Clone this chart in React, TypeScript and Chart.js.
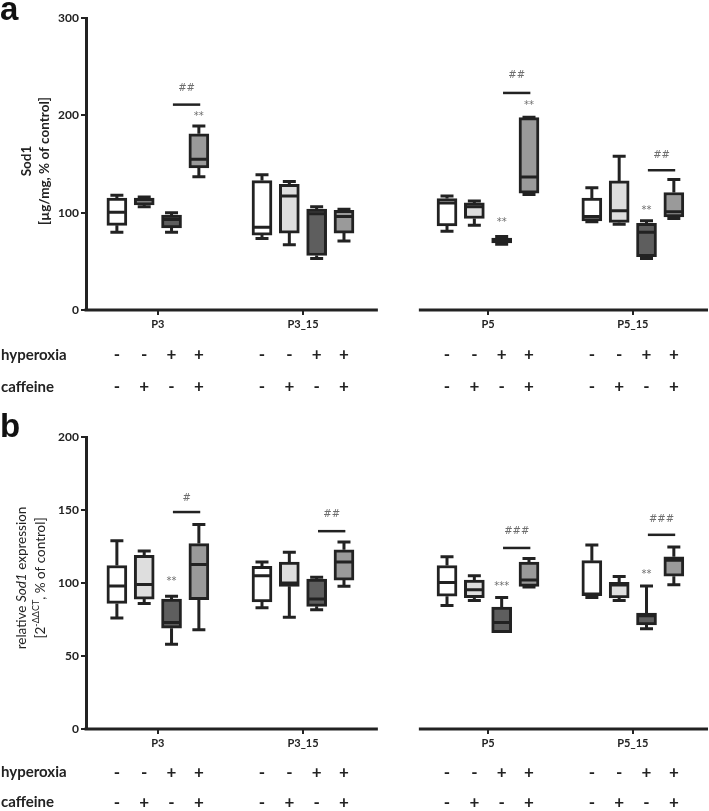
import React, { useEffect, useRef } from "react";
import { Chart, registerables } from "chart.js";

Chart.register(...registerables);

// ---------- shared categories ----------
const groups = ["P3", "P3_15", "P5", "P5_15"];
const hyperoxia = ["-", "-", "+", "+"];
const caffeine = ["-", "+", "-", "+"];
const slotColors = ["#ffffff", "#dedede", "#5e5e5e", "#9a9a9a"];
// group centres on the x scale (1 unit = distance between neighbouring boxes)
const groupCenters = [2.63, 7.94, 14.71, 20.01];
const xMax = 22.76;
const axisSegments = [
  [0, 10.68],
  [12.18, 22.76],
];

// ---------- panel a: Sod1 protein [µg/mg, % of control] ----------
const aMin = [80, 106, 80, 137, 73.5, 67, 53, 71, 81, 87, 67.5, 118.6, 90.6, 88, 53, 94];
const aQ1 = [87, 108, 84.4, 146, 77, 79, 56, 79, 86.5, 94, 69, 120, 91.6, 90, 54.7, 95.7];
const aMedian = [100.5, 113, 93, 155, 85, 117, 99, 96, 110, 106, 71, 136.7, 96, 102, 80, 101];
const aQ3 = [115, 115, 97.4, 181, 133, 129, 103.6, 102.5, 114.5, 110, 74, 197.6, 115, 132.6, 89, 120.7];
const aMax = [118, 116, 100, 189, 139, 132, 106, 103.6, 117, 112, 75.5, 198, 125.5, 158, 91.6, 134];
const aYTicks = [0, 100, 200, 300];
const aBrackets = [
  { group: 0, y: 211, label: "##", labelY: 228 },
  { group: 2, y: 223, label: "##", labelY: 241 },
  { group: 3, y: 143.6, label: "##", labelY: 159 },
];
const aStars = [
  { group: 0, slot: 3, text: "**", y: 199 },
  { group: 2, slot: 3, text: "**", y: 210 },
  { group: 2, slot: 2, text: "**", y: 90 },
  { group: 3, slot: 2, text: "**", y: 102.6 },
];

// ---------- panel b: relative Sod1 expression ----------
const bMin = [76, 86, 58, 68, 83, 76.6, 81.6, 97.7, 84.6, 88, 66, 97.2, 90, 88, 68.6, 98.8];
const bQ1 = [86, 89, 69, 88.5, 87, 97.7, 84, 102, 91, 90, 66, 97.7, 91.3, 89.7, 71.3, 104.6];
const bMedian = [98, 99, 73, 112.6, 105, 100, 89, 114.4, 100.4, 95.4, 73, 102, 92.4, 98.6, 77.5, 115.6];
const bQ3 = [112, 119, 89, 127, 111.4, 114.4, 102.7, 122.7, 112, 102, 83.5, 114.4, 115.3, 100.4, 79.4, 117.9];
const bMax = [129, 122, 91, 140, 114.4, 121, 104, 128, 118, 105, 90, 116.7, 126, 104.5, 98, 124.7];
const bYTicks = [0, 50, 100, 150, 200];
const bBrackets = [
  { group: 0, y: 148.6, label: "#", labelY: 158 },
  { group: 1, y: 135.5, label: "##", labelY: 147 },
  { group: 2, y: 124, label: "###", labelY: 135 },
  { group: 3, y: 133, label: "###", labelY: 143.5 },
];
const bStars = [
  { group: 0, slot: 2, text: "**", y: 101 },
  { group: 2, slot: 2, text: "***", y: 98 },
  { group: 3, slot: 2, text: "**", y: 106 },
];

const INK = "#222222";
const FONT = "Lato";

function boxX(k: number) {
  return groupCenters[Math.floor(k / 4)] + ((k % 4) - 1.5);
}

type Run = { text: string; font: string; dy?: number };

type Panel = {
  letter: string;
  min: number[];
  q1: number[];
  median: number[];
  q3: number[];
  max: number[];
  yTicks: number[];
  brackets: { group: number; y: number; label: string; labelY: number }[];
  stars: { group: number; slot: number; text: string; y: number }[];
  height: number;
  padTop: number;
  bottomH: number;
  letterY: number;
  rowOffsets: number[];
  titleLines: { x: number; runs: Run[] }[];
  titleY: number;
};

const panelA: Panel = {
  letter: "a",
  min: aMin,
  q1: aQ1,
  median: aMedian,
  q3: aQ3,
  max: aMax,
  yTicks: aYTicks,
  brackets: aBrackets,
  stars: aStars,
  height: 415,
  padTop: 18,
  bottomH: 105,
  letterY: 20,
  rowOffsets: [45, 77],
  titleLines: [
    { x: 27, runs: [{ text: "Sod1", font: `bold 13.5px ${FONT}` }] },
    { x: 45, runs: [{ text: "[µg/mg, % of control]", font: `bold 13.5px ${FONT}` }] },
  ],
  titleY: 161,
};

const panelB: Panel = {
  letter: "b",
  min: bMin,
  q1: bQ1,
  median: bMedian,
  q3: bQ3,
  max: bMax,
  yTicks: bYTicks,
  brackets: bBrackets,
  stars: bStars,
  height: 406,
  padTop: 32,
  bottomH: 82,
  letterY: 32,
  rowOffsets: [43.5, 73.5],
  titleLines: [
    {
      x: 22,
      runs: [
        { text: "relative ", font: `13.5px ${FONT}` },
        { text: "Sod1", font: `italic 13.5px ${FONT}` },
        { text: " expression", font: `13.5px ${FONT}` },
      ],
    },
    {
      x: 41,
      runs: [
        { text: "[2", font: `13.5px ${FONT}` },
        { text: "-\u0394\u0394CT", font: `9px ${FONT}`, dy: -5 },
        { text: ", % of control]", font: `13.5px ${FONT}` },
      ],
    },
  ],
  titleY: 173,
};

const boxPlugin = {
  id: "boxExtras",
  afterDatasetsDraw(chart: any, _args: any, opts: any) {
    const p: Panel = opts.panel;
    const { ctx } = chart;
    const xs = chart.scales.x;
    const ys = chart.scales.y;
    const half = 10;
    const cap = 6.5;
    ctx.save();
    ctx.strokeStyle = INK;
    ctx.lineWidth = 3;
    ctx.lineCap = "butt";
    for (let k = 0; k < p.q1.length; k++) {
      const cx = xs.getPixelForValue(boxX(k));
      const yMin = ys.getPixelForValue(p.min[k]);
      const yQ1 = ys.getPixelForValue(p.q1[k]);
      const yQ3 = ys.getPixelForValue(p.q3[k]);
      const yMax = ys.getPixelForValue(p.max[k]);
      const yMed = ys.getPixelForValue(p.median[k]);
      ctx.beginPath();
      if (yMax < yQ3) {
        ctx.moveTo(cx, yQ3);
        ctx.lineTo(cx, yMax);
        ctx.moveTo(cx - cap, yMax);
        ctx.lineTo(cx + cap, yMax);
      }
      if (yMin > yQ1) {
        ctx.moveTo(cx, yQ1);
        ctx.lineTo(cx, yMin);
        ctx.moveTo(cx - cap, yMin);
        ctx.lineTo(cx + cap, yMin);
      }
      ctx.moveTo(cx - half + 2, yMed);
      ctx.lineTo(cx + half - 2, yMed);
      ctx.stroke();
    }
    // significance brackets
    ctx.lineWidth = 2.5;
    ctx.font = `10px 'DejaVu Sans'`;
    ctx.textAlign = "center";
    ctx.textBaseline = "middle";
    for (const b of p.brackets) {
      const x0 = xs.getPixelForValue(groupCenters[b.group] + 0.55);
      const x1 = xs.getPixelForValue(groupCenters[b.group] + 1.55);
      const yy = ys.getPixelForValue(b.y);
      ctx.strokeStyle = INK;
      ctx.beginPath();
      ctx.moveTo(x0, yy);
      ctx.lineTo(x1, yy);
      ctx.stroke();
      ctx.fillStyle = "#6e6e6e";
      ctx.fillText(b.label, (x0 + x1) / 2, ys.getPixelForValue(b.labelY));
    }
    for (const s of p.stars) {
      const cx = xs.getPixelForValue(groupCenters[s.group] + s.slot - 1.5);
      ctx.fillStyle = "#6e6e6e";
      ctx.fillText(s.text, cx, ys.getPixelForValue(s.y));
    }
    ctx.restore();
  },
  afterDraw(chart: any, _args: any, opts: any) {
    const p: Panel = opts.panel;
    const { ctx, chartArea } = chart;
    const xs = chart.scales.x;
    const ys = chart.scales.y;
    ctx.save();
    // broken x axis
    const y0 = ys.getPixelForValue(0);
    ctx.strokeStyle = INK;
    ctx.lineWidth = 3;
    ctx.beginPath();
    axisSegments.forEach((seg, i) => {
      const xa = i === 0 ? chartArea.left - 1.5 : xs.getPixelForValue(seg[0]);
      ctx.moveTo(xa, y0);
      ctx.lineTo(xs.getPixelForValue(seg[1]), y0);
    });
    ctx.stroke();
    // treatment rows
    ctx.fillStyle = INK;
    ctx.font = `bold 15px ${FONT}`;
    ctx.textBaseline = "middle";
    ctx.textAlign = "left";
    ctx.fillText("hyperoxia", 1, y0 + p.rowOffsets[0]);
    ctx.fillText("caffeine", 1, y0 + p.rowOffsets[1]);
    ctx.textAlign = "center";
    ctx.font = `bold 17px ${FONT}`;
    for (let k = 0; k < p.q1.length; k++) {
      const cx = xs.getPixelForValue(boxX(k));
      ctx.fillText(hyperoxia[k % 4], cx, y0 + p.rowOffsets[0]);
      ctx.fillText(caffeine[k % 4], cx, y0 + p.rowOffsets[1]);
    }
    // y title (rotated, mixed runs)
    for (const line of p.titleLines) {
      ctx.save();
      ctx.translate(line.x, p.titleY);
      ctx.rotate(-Math.PI / 2);
      ctx.textAlign = "left";
      ctx.textBaseline = "middle";
      let total = 0;
      for (const r of line.runs) {
        ctx.font = r.font;
        total += ctx.measureText(r.text).width;
      }
      let pos = -total / 2;
      for (const r of line.runs) {
        ctx.font = r.font;
        ctx.fillText(r.text, pos, r.dy || 0);
        pos += ctx.measureText(r.text).width;
      }
      ctx.restore();
    }
    // panel letter
    ctx.font = `bold 33px 'Liberation Sans'`;
    ctx.textAlign = "left";
    ctx.textBaseline = "alphabetic";
    ctx.fillStyle = "#111";
    ctx.fillText(p.letter, 0, p.letterY);
    ctx.restore();
  },
};

function buildConfig(p: Panel): any {
  const boxes = p.q1.map((q1, k) => ({ x: boxX(k), y: [q1, p.q3[k]] }));
  return {
    type: "bar",
    data: {
      datasets: [
        {
          data: boxes,
          backgroundColor: boxes.map((_, k) => slotColors[k % 4]),
          borderColor: INK,
          borderWidth: 3,
          borderSkipped: false,
          barThickness: 20,
        },
      ],
    },
    options: {
      responsive: false,
      maintainAspectRatio: false,
      animation: false,
      events: [],
      layout: { padding: { top: p.padTop, right: 1, left: 0, bottom: 0 } },
      plugins: {
        legend: { display: false },
        tooltip: { enabled: false },
        boxExtras: { panel: p },
      },
      scales: {
        x: {
          type: "linear",
          min: 0,
          max: xMax,
          offset: false,
          border: { display: false },
          grid: {
            offset: false,
            drawOnChartArea: false,
            drawTicks: true,
            tickLength: 5,
            lineWidth: 2,
            color: INK,
          },
          ticks: {
            autoSkip: false,
            maxRotation: 0,
            padding: 3,
            color: INK,
            font: { family: FONT, weight: "bold", size: 11 },
            callback: (_v: any, i: number) => groups[i],
          },
          afterBuildTicks: (scale: any) => {
            scale.ticks = groupCenters.map((v) => ({ value: v }));
          },
          afterFit: (scale: any) => {
            scale.height = p.bottomH;
          },
        },
        y: {
          min: p.yTicks[0],
          max: p.yTicks[p.yTicks.length - 1],
          border: { display: true, color: INK, width: 3 },
          grid: {
            drawOnChartArea: false,
            drawTicks: true,
            tickLength: 5,
            lineWidth: 2,
            color: INK,
          },
          ticks: {
            padding: 2,
            color: INK,
            font: { family: FONT, weight: "bold", size: 12 },
          },
          afterBuildTicks: (scale: any) => {
            scale.ticks = p.yTicks.map((v) => ({ value: v }));
          },
          afterFit: (scale: any) => {
            scale.width = 86;
          },
        },
      },
    },
    plugins: [boxPlugin],
  };
}

function PanelChart({ panel, top }: { panel: Panel; top: number }) {
  const ref = useRef<HTMLCanvasElement>(null);
  useEffect(() => {
    if (!ref.current) return;
    const chart = new Chart(ref.current, buildConfig(panel));
    return () => chart.destroy();
  }, [panel]);
  return (
    <canvas
      ref={ref}
      width={709}
      height={panel.height}
      style={{ position: "absolute", left: 0, top, display: "block" }}
    />
  );
}

export default function App() {
  return (
    <div
      style={{
        position: "absolute",
        left: 0,
        top: 0,
        width: 709,
        height: 811,
        overflow: "hidden",
        background: "#ffffff",
      }}
    >
      <PanelChart panel={panelA} top={0} />
      <PanelChart panel={panelB} top={405} />
    </div>
  );
}
